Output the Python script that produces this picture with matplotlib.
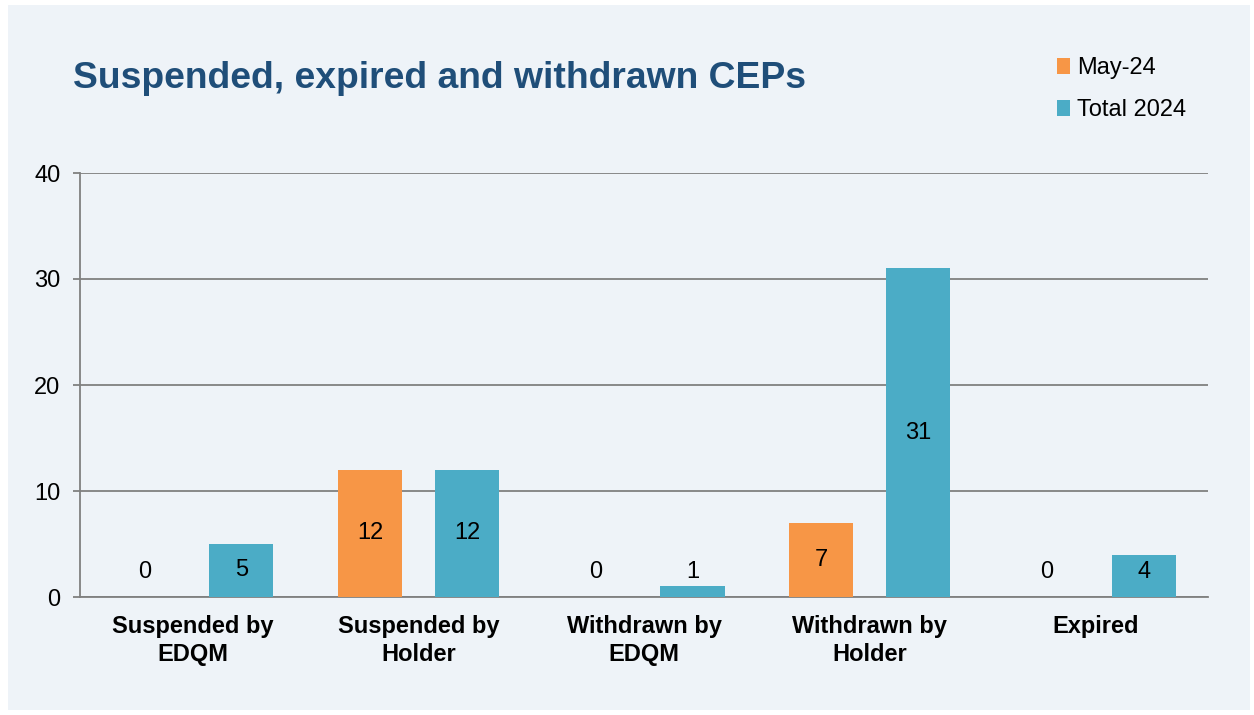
import matplotlib.pyplot as plt
import numpy as np
from matplotlib.patches import Rectangle

plt.rcParams['font.family'] = ['Liberation Sans', 'DejaVu Sans']

categories = ["Suspended by\nEDQM", "Suspended by\nHolder", "Withdrawn by\nEDQM",
              "Withdrawn by\nHolder", "Expired"]
may_24 = [0, 12, 0, 7, 0]
total_2024 = [5, 12, 1, 31, 4]

bg = "#EEF3F8"
orange = "#F79646"
teal = "#4BACC6"

W, H = 1254, 715
fig = plt.figure(figsize=(W / 100, H / 100), dpi=100, facecolor="white")
fig.patches.append(Rectangle((8 / W, 5 / H), (1250 - 8) / W, (710 - 5) / H,
                             transform=fig.transFigure, facecolor=bg,
                             edgecolor="none", zorder=-5))

ax = fig.add_axes([80 / W, (H - 597) / H, (1208 - 80) / W, (597 - 173) / H])
ax.set_facecolor(bg)

x = np.arange(len(categories))
off = 0.215
w = 0.285
ax.bar(x - off, may_24, w, color=orange, label="May-24", zorder=3)
ax.bar(x + off, total_2024, w, color=teal, label="Total 2024", zorder=3)

for xi, v in zip(x - off, may_24):
    ax.text(xi, max(v / 2, 2.4), str(v), ha="center", va="center", fontsize=17, zorder=4)
for xi, v in zip(x + off, total_2024):
    ax.text(xi, max(v / 2, 2.4), str(v), ha="center", va="center", fontsize=17, zorder=4)

ax.set_xlim(-0.5, len(categories) - 0.5)
ax.set_ylim(0, 40)
ax.set_yticks([0, 10, 20, 30, 40])
ax.grid(axis="y", color="#808080", linewidth=1.3, zorder=1)
ax.set_axisbelow(True)
for s in ["top", "right"]:
    ax.spines[s].set_visible(False)
ax.spines["left"].set_color("#808080")
ax.spines["bottom"].set_color("#808080")
ax.spines["left"].set_linewidth(1.3)
ax.spines["bottom"].set_linewidth(1.3)
ax.tick_params(axis="y", length=5, color="#808080", width=1.3, labelsize=17, pad=9)
ax.tick_params(axis="x", length=0, labelsize=17, pad=13)
ax.set_xticks(x)
ax.set_xticklabels(categories, fontweight="bold", linespacing=1.25)

fig.text(73 / W, 1 - 79 / H, "Suspended, expired and withdrawn CEPs", color="#1F4E79",
         fontsize=26.8, fontweight="bold", va="center", ha="left")

handles, labels = ax.get_legend_handles_labels()
fig.legend(handles, labels, loc="upper left", bbox_to_anchor=(1036 / W, 1 - 36 / H),
           frameon=False, fontsize=17, handlelength=0.55, handleheight=0.7,
           handletextpad=0.3, labelspacing=0.85)

fig.savefig("out.png", dpi=100, facecolor="white")
